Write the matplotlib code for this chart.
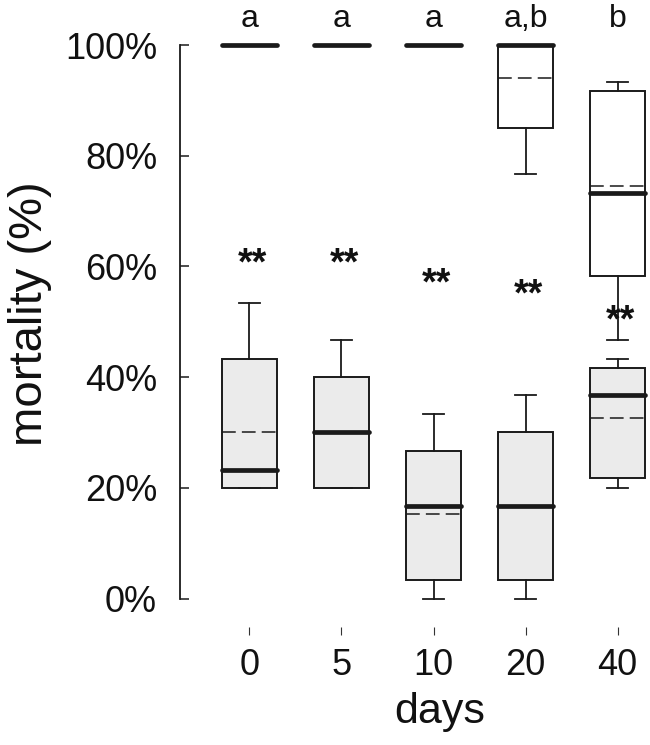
import matplotlib
matplotlib.use('Agg')
import matplotlib.pyplot as plt

plt.rcParams['font.family'] = ['Liberation Sans', 'DejaVu Sans']

# groups on the x axis
days = ['0', '5', '10', '20', '40']
letters = ['a', 'a', 'a', 'a,b', 'b']

# upper (white) boxes, mortality in %
up_whislo = [100, 100, 100, 76.7, 46.7]
up_q1 = [100, 100, 100, 85.0, 58.3]
up_med = [100, 100, 100, 100, 73.3]
up_q3 = [100, 100, 100, 100, 91.7]
up_whishi = [100, 100, 100, 100, 93.3]
up_mean = [100, 100, 100, 94.0, 74.6]

# lower (grey) boxes, mortality in %
lo_whislo = [20, 20, 0, 0, 20]
lo_q1 = [20, 20, 3.3, 3.3, 21.7]
lo_med = [23.3, 30, 16.7, 16.7, 36.7]
lo_q3 = [43.3, 40, 26.7, 30, 41.7]
lo_whishi = [53.3, 46.7, 33.3, 36.7, 43.3]
lo_mean = [30, 30, 15.3, 16.7, 32.7]

# "**" marks (baseline height in %)
star_y = [58.6, 58.6, 54.9, 53.0, 48.3]

EDGE = '#1a1a1a'


def stats(whislo, q1, med, q3, whishi, mean):
    return [dict(whislo=a, q1=b, med=c, q3=d, whishi=e, mean=f, fliers=[])
            for a, b, c, d, e, f in zip(whislo, q1, med, q3, whishi, mean)]


def draw(ax, st, face):
    pos = list(range(1, len(st) + 1))
    art = ax.bxp(st, positions=pos, widths=0.6, capwidths=0.23,
                 patch_artist=True, showmeans=True, meanline=True,
                 showfliers=False, manage_ticks=False,
                 boxprops=dict(facecolor=face, edgecolor=EDGE, linewidth=1.4),
                 whiskerprops=dict(color=EDGE, linewidth=1.3),
                 capprops=dict(color=EDGE, linewidth=1.3),
                 medianprops=dict(color=EDGE, linewidth=3.4,
                                  solid_capstyle='round'),
                 meanprops=dict(color=EDGE, linewidth=1.1,
                                linestyle=(0, (9, 4))))
    for key, items in art.items():
        for a in items:
            a.set_clip_on(False)
    for m in art['medians']:
        m.set_zorder(4)
    for m in art['means']:
        m.set_zorder(3.5)


fig = plt.figure(figsize=(6.5, 7.45), dpi=100)
ax = fig.add_axes([0.2769, 0.19664, 0.7231, 0.74295])

draw(ax, stats(lo_whislo, lo_q1, lo_med, lo_q3, lo_whishi, lo_mean), '#ebebeb')
draw(ax, stats(up_whislo, up_q1, up_med, up_q3, up_whishi, up_mean), 'white')

ax.set_xlim(0.2446, 5.353)
ax.set_ylim(0, 100)

for i, s in enumerate(letters):
    ax.text(i + 1, 103.25, s, ha='center', va='baseline', fontsize=23,
            color='#111111', clip_on=False)
for i, y in enumerate(star_y):
    ax.text(i + 1.03, y, '**', ha='center', va='baseline', fontsize=27,
            fontweight='bold', color='#111111', clip_on=False)

ax.set_yticks([0, 20, 40, 60, 80, 100])
ax.set_yticklabels(['0%', '20%', '40%', '60%', '80%', '100%'])
ax.set_xticks(range(1, len(days) + 1))
ax.set_xticklabels(days)

ax.tick_params(axis='y', direction='in', length=6.5, width=1.1, pad=16.5,
               labelsize=26, colors=EDGE, labelcolor='#111111')
ax.tick_params(axis='x', direction='out', length=5.8, width=0.8, pad=9,
               labelsize=26, colors='#333333', labelcolor='#111111')

ax.spines['top'].set_visible(False)
ax.spines['right'].set_visible(False)
ax.spines['bottom'].set_color('none')
ax.spines['bottom'].set_position(('outward', 20.5))
ax.spines['left'].set_color(EDGE)
ax.spines['left'].set_linewidth(1.3)

fig.text(30 / 650, 0.5785, 'mortality (%)', rotation=90, ha='center',
         va='center', fontsize=34, color='#111111')
fig.text(440 / 650, (745 - 712) / 745, 'days', ha='center', va='center',
         fontsize=31, color='#111111')

fig.savefig('out.png', dpi=100, facecolor='white')
